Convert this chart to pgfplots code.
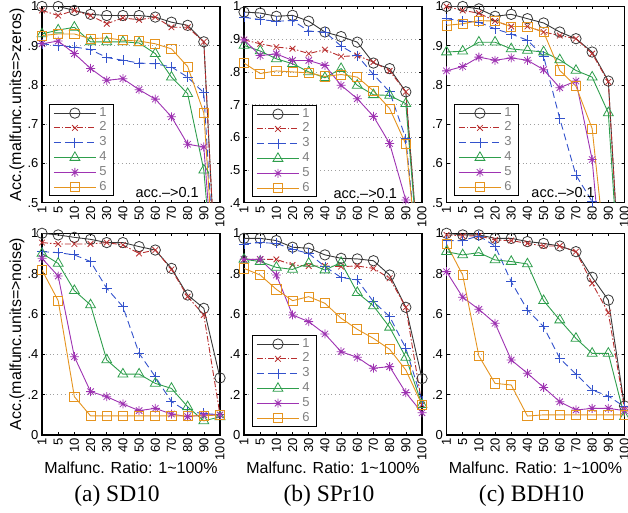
\documentclass[border=0pt]{standalone}
\usepackage{pgfplots}
\pgfplotsset{compat=1.18}
\usepackage{pgfplotstable}
\usepackage{fontspec}
\setmainfont{Liberation Sans}
\newfontfamily\capfont{Liberation Serif}

\definecolor{c1}{rgb}{0.22,0.22,0.22}
\definecolor{c2}{rgb}{0.72,0.18,0.18}
\definecolor{c3}{rgb}{0.20,0.32,0.80}
\definecolor{c4}{rgb}{0.18,0.62,0.30}
\definecolor{c5}{rgb}{0.62,0.20,0.70}
\definecolor{c6}{rgb}{0.90,0.58,0.12}

\pgfdeclareplotmark{ast8}{%
  \pgfpathmoveto{\pgfqpoint{-\pgfplotmarksize}{0pt}}\pgfpathlineto{\pgfqpoint{\pgfplotmarksize}{0pt}}%
  \pgfpathmoveto{\pgfqpoint{0pt}{-\pgfplotmarksize}}\pgfpathlineto{\pgfqpoint{0pt}{\pgfplotmarksize}}%
  \pgfpathmoveto{\pgfqpoint{-.707\pgfplotmarksize}{-.707\pgfplotmarksize}}\pgfpathlineto{\pgfqpoint{.707\pgfplotmarksize}{.707\pgfplotmarksize}}%
  \pgfpathmoveto{\pgfqpoint{-.707\pgfplotmarksize}{.707\pgfplotmarksize}}\pgfpathlineto{\pgfqpoint{.707\pgfplotmarksize}{-.707\pgfplotmarksize}}%
  \pgfusepathqstroke}

\pgfplotstableread{
x s1 s2 s3 s4 s5 s6
0 1.0 .99 .905 .93 .905 .926
1 1.0 .977 .90 .94 .912 .93
2 .99 .99 .897 .947 .88 .93
3 .98 .977 .89 .91 .842 .918
4 .977 .956 .87 .91 .812 .92
5 .977 .971 .863 .91 .816 .914
6 .977 .966 .856 .907 .788 .912
7 .973 .973 .854 .88 .764 .905
8 .96 .947 .846 .82 .719 .892
9 .952 .947 .82 .778 .649 .847
10 .91 .91 .78 .583 .642 .729
11 .1 .1 .1 .1 .1 .1
}\Atop
\pgfplotstableread{
x s1 s2 s3 s4 s5 s6
0 .983 .898 .967 .881 .898 .827
1 .98 .886 .96 .864 .85 .795
2 .97 .876 .955 .84 .855 .803
3 .973 .871 .957 .825 .835 .80
4 .955 .856 .925 .80 .835 .797
5 .922 .868 .922 .782 .82 .786
6 .908 .847 .879 .81 .759 .792
7 .891 .85 .85 .759 .718 .784
8 .827 .83 .792 .73 .664 .742
9 .81 .803 .739 .728 .581 .688
10 .739 .739 .596 .703 .408 .579
11 .1 .1 .1 .1 .1 .1
}\Btop
\pgfplotstableread{
x s1 s2 s3 s4 s5 s6
0 1.0 1.0 .969 .884 .836 .952
1 1.0 .99 .963 .886 .847 .956
2 .994 .983 .96 .909 .871 .964
3 .975 .963 .943 .909 .863 .963
4 .98 .949 .93 .892 .869 .949
5 .969 .949 .914 .888 .863 .949
6 .958 .935 .873 .884 .839 .935
7 .935 .926 .714 .864 .793 .837
8 .918 .918 .57 .837 .81 .797
9 .884 .88 .503 .82 .61 .689
10 .81 .808 .3 .729 .15 .3
11 .1 .1 .1 .1 .1 .1
}\Ctop
\pgfplotstableread{
x s1 s2 s3 s4 s5 s6
0 1.0 .954 .909 .90 .876 .818
1 .992 .947 .904 .851 .788 .666
2 .98 .947 .893 .716 .388 .19
3 .97 .947 .86 .645 .215 .095
4 .954 .954 .727 .372 .19 .095
5 .954 .942 .636 .302 .154 .095
6 .934 .90 .405 .302 .121 .095
7 .917 .917 .289 .256 .132 .095
8 .826 .821 .165 .231 .104 .095
9 .694 .686 .116 .14 .091 .095
10 .628 .595 .107 .07 .10 .095
11 .283 .1 .1 .09 .1 .1
}\Abot
\pgfplotstableread{
x s1 s2 s3 s4 s5 s6
0 .975 .871 .947 .871 .871 .826
1 .975 .871 .954 .86 .871 .793
2 .964 .871 .95 .831 .793 .722
3 .931 .843 .921 .821 .595 .666
4 .926 .838 .90 .851 .562 .686
5 .893 .838 .835 .818 .501 .653
6 .876 .835 .781 .855 .413 .579
7 .873 .838 .769 .706 .385 .524
8 .864 .826 .661 .64 .331 .479
9 .793 .777 .587 .534 .339 .425
10 .633 .633 .43 .385 .21 .322
11 .28 .15 .17 .15 .11 .15
}\Bbot
\pgfplotstableread{
x s1 s2 s3 s4 s5 s6
0 1.0 .992 .964 .909 .81 .947
1 .992 .987 .964 .893 .683 .793
2 .992 .987 .987 .904 .623 .392
3 .975 .967 .937 .868 .554 .256
4 .975 .964 .76 .86 .372 .248
5 .959 .95 .62 .848 .306 .094
6 .95 .937 .537 .666 .236 .1
7 .937 .937 .38 .57 .165 .1
8 .909 .909 .302 .479 .124 .1
9 .782 .752 .223 .405 .132 .1
10 .669 .607 .193 .405 .132 .1
11 .144 .13 .14 .091 .121 .1
}\Cbot

\pgfplotsset{
  s1/.style={color=c1, line width=0.9pt, solid, mark=o, mark size=5.2pt, mark options={solid, line width=0.8pt}},
  s2/.style={color=c2, line width=0.9pt, dash pattern=on 6pt off 2pt on 1.5pt off 2pt, mark=x, mark size=4pt, mark options={solid, line width=0.8pt}},
  s3/.style={color=c3, line width=0.9pt, dash pattern=on 7pt off 4pt, mark=+, mark size=5pt, mark options={solid, line width=0.8pt}},
  s4/.style={color=c4, line width=0.9pt, solid, mark=triangle, mark size=5.7pt, mark options={solid, line width=0.8pt}},
  s5/.style={color=c5, line width=0.9pt, solid, mark=ast8, mark size=4.5pt, mark options={solid, line width=0.8pt}},
  s6/.style={color=c6, line width=0.9pt, solid, mark=square, mark size=4.6pt, mark options={solid, line width=0.8pt}},
  myaxis/.style={
    scale only axis, width=178pt, anchor=south west,
    xmin=0, xmax=11,
    xtick={0,...,11},
    xticklabels={1,5,10,20,30,40,50,60,70,80,90,100},
    xticklabel style={rotate=90, anchor=east},
    tick label style={font=\fontsize{13}{15}\selectfont},
    /pgf/number format/assume math mode=true,
    label style={font=\fontsize{16}{19}\selectfont},
    axis line style={line width=1.3pt, black},
    tick style={line width=0.6pt, black},
    major tick length=3pt,
    tick align=inside,
    ymajorgrids,
    grid style={gray!75, line width=0.6pt, dash pattern=on 0.8pt off 3pt},
    clip marker paths=false,
    legend cell align=left,
    legend image code/.code={\draw[mark repeat=2,mark phase=2,##1] plot coordinates {(0pt,0pt) (21pt,0pt) (42pt,0pt)};},
    legend style={anchor=south west, draw=black, line width=1pt, fill=white,
      font=\fontsize{13}{15}\selectfont, text=gray,
      inner xsep=4pt, inner ysep=1pt, row sep=0pt,
      nodes={text height=9pt, text depth=3pt, inner ysep=1.4pt, inner xsep=3pt}},
  },
  toprow/.style={height=196.2pt},
  botrow/.style={height=201.7pt, ymin=0, ymax=1, ytick={0,.2,.4,.6,.8,1}, yticklabels={0,.2,.4,.6,.8,1}},
  topAC/.style={ymin=.5, ymax=1, ytick={.5,.6,.7,.8,.9,1}, yticklabels={.5,.6,.7,.8,.9,1}},
}
\newcommand{\sixplots}[1]{%
  \addplot[s1] table[x=x,y=s1]{#1};
  \addplot[s2] table[x=x,y=s2]{#1};
  \addplot[s3] table[x=x,y=s3]{#1};
  \addplot[s4] table[x=x,y=s4]{#1};
  \addplot[s5] table[x=x,y=s5]{#1};
  \addplot[s6] table[x=x,y=s6]{#1};
}
\newcommand{\accnote}[2]{\node[anchor=east, font=\fontsize{14.5}{16}\selectfont, inner sep=0pt] at (axis description cs:#1,#2) {acc.\textendash>0.1};}

\begin{document}
\begin{tikzpicture}
% ---- top row ----
\begin{axis}[myaxis, toprow, topAC, at={(42pt,309.3pt)},
  ylabel={Acc.(malfunc.units=>zeros)},
  ylabel style={at={(axis description cs:-0.14,0.5)}, anchor=center},
  legend style={at={(axis description cs:0.039,0.034)}}]
\sixplots{\Atop}
\legend{1,2,3,4,5,6}
\accnote{0.882}{0.05}
\end{axis}
\begin{axis}[myaxis, toprow, at={(244pt,309.3pt)},
  ymin=.4, ymax=1, ytick={.4,.5,.6,.7,.8,.9,1}, yticklabels={.4,.5,.6,.7,.8,.9,1},
  legend style={at={(axis description cs:0.045,0.029)}}]
\sixplots{\Btop}
\legend{1,2,3,4,5,6}
\accnote{0.86}{0.045}
\end{axis}
\begin{axis}[myaxis, toprow, topAC, at={(446.5pt,309.3pt)},
  legend style={at={(axis description cs:0.042,0.034)}}]
\sixplots{\Ctop}
\legend{1,2,3,4,5,6}
\accnote{0.834}{0.054}
\end{axis}
% ---- bottom row ----
\begin{axis}[myaxis, botrow, at={(42pt,77pt)},
  ylabel={Acc.(malfunc.units=>noise)},
  ylabel style={at={(axis description cs:-0.14,0.5)}, anchor=center},
  xlabel={Malfunc. Ratio: 1\textasciitilde 100\%},
  xlabel style={at={(axis description cs:0.5,-0.164)}, anchor=center}]
\sixplots{\Abot}
\end{axis}
\begin{axis}[myaxis, botrow, at={(244pt,77pt)},
  xlabel={Malfunc. Ratio: 1\textasciitilde 100\%},
  xlabel style={at={(axis description cs:0.5,-0.164)}, anchor=center},
  legend style={at={(axis description cs:0.045,0.04)}}]
\sixplots{\Bbot}
\legend{1,2,3,4,5,6}
\end{axis}
\begin{axis}[myaxis, botrow, at={(446.5pt,77pt)},
  xlabel={Malfunc. Ratio: 1\textasciitilde 100\%},
  xlabel style={at={(axis description cs:0.5,-0.164)}, anchor=center}]
\sixplots{\Cbot}
\end{axis}
% captions
\node[font=\capfont\fontsize{23.5}{26}\selectfont] at (117pt,16pt) {(a) SD10};
\node[font=\capfont\fontsize{23.5}{26}\selectfont] at (329pt,16pt) {(b) SPr10};
\node[font=\capfont\fontsize{23.5}{26}\selectfont] at (531.5pt,16pt) {(c) BDH10};
\pgfresetboundingbox
\path[use as bounding box] (0pt,0pt) rectangle (628pt,512pt);
\end{tikzpicture}
\end{document}
